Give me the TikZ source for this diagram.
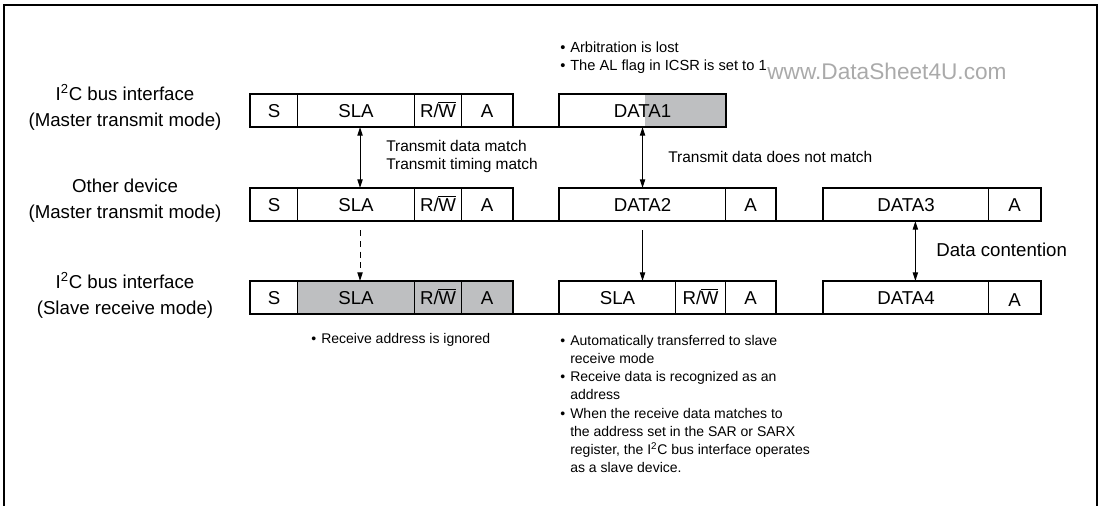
\documentclass[tikz,border=0pt]{standalone}
\usepackage{fontspec}
\setmainfont{Liberation Sans}
\usetikzlibrary{arrows.meta}
\definecolor{gbox}{RGB}{190,191,193}
\definecolor{wmark}{RGB}{170,170,170}
\newcommand\fbig{\fontsize{14}{19.5}\selectfont}
\newcommand\fmid{\fontsize{11.6}{13.5}\selectfont}
\newcommand\fsm{\fontsize{10.5}{13.7}\selectfont}
\newcommand\ftop{\fontsize{11}{13.5}\selectfont}
\newcommand\bl{\makebox[7.5pt][l]{\textbullet}}
\newcommand\RW{R/\kern-0.3pt$\overline{\hbox{W}}$}
\newcommand\IIC{I\textsuperscript{2}C}
\begin{document}
\begin{tikzpicture}[x=0.75pt,y=-0.75pt,
  fld/.style={draw, line width=0.8pt, minimum width=#1*0.75pt, minimum height=24pt, inner sep=0pt, text height=10pt, text depth=0pt, anchor=north west, font=\fbig},
  gfld/.style={fld=#1, fill=gbox},
  grp/.style={draw, line width=1.7pt},
  sig/.style={line width=1.7pt},
  biarrow/.style={line width=0.8pt, {Triangle[length=6.5pt,width=4pt]}-{Triangle[length=6.5pt,width=4pt]}},
  onearrow/.style={line width=0.8pt, -{Triangle[length=6.5pt,width=4pt]}},
  rowlabel/.style={font=\fbig, align=center},
  note/.style={font=\fmid, align=left, anchor=west, inner sep=0pt},
  bullets/.style={font=\fsm, align=left, anchor=west, inner sep=0pt}
]
\useasboundingbox (0,0) rectangle (1102,506);
\draw[line width=1.6pt] (4,506) -- (4,5) -- (1097,5) -- (1097,506);

% Row 1: I2C master transmit
\node[fld=47] (mS) at (250,94) {S};
\node[fld=117] (mSLA) at (297,94) {SLA};
\node[fld=47] (mRW) at (414,94) {\RW};
\node[fld=51] (mA) at (461,94) {A};
\fill[gbox] (645,94) rectangle (725,126);
\node[fld=166] (mD1) at (559,94) {DATA1};
\draw[grp] (mS.north west) rectangle (mA.south east);
\draw[grp] (mD1.north west) rectangle (mD1.south east);
\draw[sig] (mA.south east) -- (mD1.south west);

% Row 2: other device
\node[fld=47] (oS) at (250,188) {S};
\node[fld=117] (oSLA) at (297,188) {SLA};
\node[fld=47] (oRW) at (414,188) {\RW};
\node[fld=51] (oA) at (461,188) {A};
\node[fld=166] (oD2) at (559,188) {DATA2};
\node[fld=50] (oA2) at (725,188) {A};
\node[fld=165] (oD3) at (823,188) {DATA3};
\node[fld=52] (oA3) at (988,188) {A};
\draw[grp] (oS.north west) rectangle (oA.south east);
\draw[grp] (oD2.north west) rectangle (oA2.south east);
\draw[grp] (oD3.north west) rectangle (oA3.south east);
\draw[sig] (oA.south east) -- (oD2.south west);
\draw[sig] (oA2.south east) -- (oD3.south west);

% Row 3: I2C slave receive
\node[fld=47] (sS) at (250,281) {S};
\node[gfld=117] (sSLA) at (297,281) {SLA};
\node[gfld=47] (sRW) at (414,281) {\RW};
\node[gfld=51] (sA) at (461,281) {A};
\node[fld=116] (sSLA2) at (559,281) {SLA};
\node[fld=50] (sRW2) at (675,281) {\RW};
\node[fld=50] (sA2) at (725,281) {A};
\node[fld=165] (sD4) at (823,281) {DATA4};
\node[fld=52] (sA4) at (988,281) {\raisebox{-2pt}{A}};
\draw[grp] (sS.north west) rectangle (sA.south east);
\draw[grp] (sSLA2.north west) rectangle (sA2.south east);
\draw[grp] (sD4.north west) rectangle (sA4.south east);
\draw[sig] (sA.south east) -- (sSLA2.south west);
\draw[sig] (sA2.south east) -- (sD4.south west);

% Arrows
\draw[biarrow] ([xshift=3pt]mSLA.south) -- ([xshift=3pt]oSLA.north);
\draw[onearrow, dash pattern=on 4.5pt off 3.5pt] ([xshift=3pt,yshift=-7pt]oSLA.south) -- ([xshift=3pt]sSLA.north);
\draw[biarrow] (mD1.south) -- (oD2.north);
\draw[onearrow] ([yshift=-7pt]oD2.south) -- (oD2.south |- sSLA2.north);
\draw[biarrow] ([xshift=7pt]oD3.south) -- ([xshift=7pt]sD4.north);

% Row labels
\node[rowlabel] (l1) at (125,107) {\IIC{} bus interface\\(Master transmit mode)};
\node[rowlabel] (l2) at (125,201) {Other device\\(Master transmit mode)};
\node[rowlabel] (l3) at (125,295) {\IIC{} bus interface\\(Slave receive mode)};

% Notes
\node[note] (n1) at (386,157) {Transmit data match\\Transmit timing match};
\node[note] (n2) at (668,157) {Transmit data does not match};
\node[note, font=\fbig] (n3) at (936,250) {Data contention};
\node[bullets, font=\ftop] (b1) at (560,58) {\bl Arbitration is lost\\\bl The AL flag in ICSR is set to 1};
\node[anchor=west, inner sep=0pt, font=\fontsize{17}{20}\selectfont, text=wmark] (wm) at (767,71) {www.DataSheet4U.com};
\node[bullets] (b2) at (311,340) {\bl Receive address is ignored};
\node[bullets] (b3) at (560,404) {\bl Automatically transferred to slave\\\hphantom{\bl}receive mode\\\bl Receive data is recognized as an\\\hphantom{\bl}address\\\bl When the receive data matches to\\\hphantom{\bl}the address set in the SAR or SARX\\\hphantom{\bl}register, the \IIC{} bus interface operates\\\hphantom{\bl}as a slave device.};
\end{tikzpicture}
\end{document}
